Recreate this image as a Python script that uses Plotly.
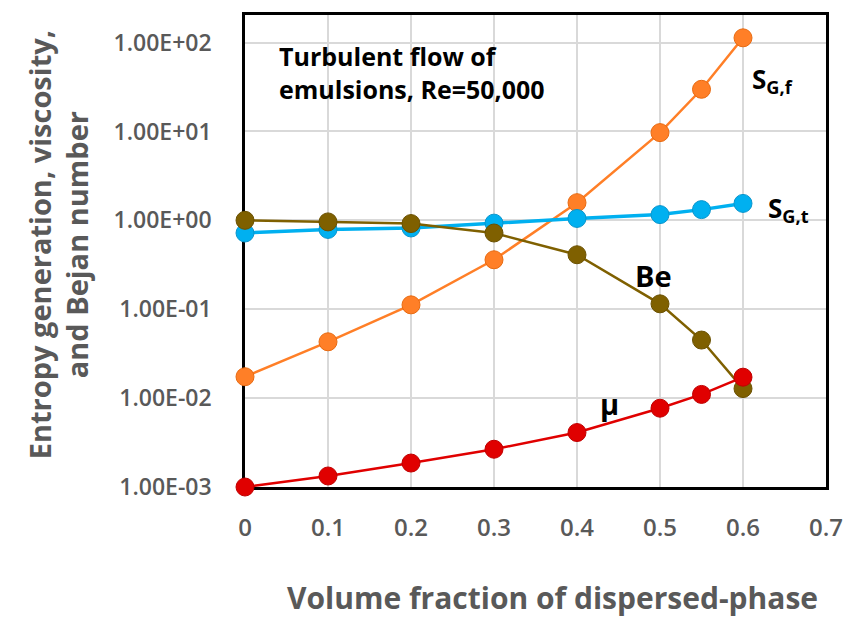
import plotly.graph_objects as go

# Volume fraction of the dispersed phase
phi = [0, 0.1, 0.2, 0.3, 0.4, 0.5, 0.55, 0.6]

# Series values (log scale on y)
sg_f = [0.0174, 0.043, 0.112, 0.36, 1.58, 9.7, 29.8, 113]
sg_t = [0.72, 0.79, 0.82, 0.93, 1.05, 1.16, 1.32, 1.55]
be = [1.0, 0.96, 0.92, 0.72, 0.41, 0.115, 0.045, 0.0128]
mu = [0.001, 0.00133, 0.00186, 0.00266, 0.0041, 0.0077, 0.011, 0.0172]

y_tickvals = [1e-3, 1e-2, 1e-1, 1e0, 1e1, 1e2]
y_ticktext = ["1.00E-03", "1.00E-02", "1.00E-01", "1.00E+00", "1.00E+01", "1.00E+02"]
x_tickvals = [0, 0.1, 0.2, 0.3, 0.4, 0.5, 0.6, 0.7]
x_ticktext = ["0", "0.1", "0.2", "0.3", "0.4", "0.5", "0.6", "0.7"]

FONT = "Open Sans"
GRAY = "#595959"

series = [
    (sg_f, "#FF7F27", "#E86A10", 2.5),
    (sg_t, "#00B0F0", "#0A95CC", 3.5),
    (be, "#7F6000", "#6A5000", 2.5),
    (mu, "#E00000", "#C00000", 2.5),
]

fig = go.Figure()
for ys, col, edge, lw in series:
    fig.add_trace(go.Scatter(
        x=phi, y=ys, mode="lines+markers",
        line=dict(color=col, width=lw),
        marker=dict(size=18, color=col, line=dict(color=edge, width=1)),
        cliponaxis=False, showlegend=False,
    ))

s_font = dict(family=FONT, size=26, color="black")
lbl_font = dict(family=FONT, size=29, color="black")
annotations = [
    dict(x=0.039, y=2.06, xref="x", yref="y", xanchor="left", yanchor="top", align="left",
         text="<b>Turbulent flow of<br>emulsions, Re=50,000</b>",
         font=dict(family=FONT, size=25, color="black"), showarrow=False),
    dict(x=0.6085, y=1.575, xref="x", yref="y", xanchor="left", yanchor="middle",
         text="<b>S<sub>G,f</sub></b>", font=s_font, showarrow=False),
    dict(x=0.628, y=0.13, xref="x", yref="y", xanchor="left", yanchor="middle",
         text="<b>S<sub>G,t</sub></b>", font=s_font, showarrow=False),
    dict(x=0.467, y=-0.617, xref="x", yref="y", xanchor="left", yanchor="middle",
         text="<b>Be</b>", font=lbl_font, showarrow=False),
    dict(x=0.425, y=-2.06, xref="x", yref="y", xanchor="left", yanchor="middle",
         text="<b>μ</b>", font=lbl_font, showarrow=False),
    dict(x=-0.322, y=0.514, xref="paper", yref="paper", xanchor="center", yanchor="middle",
         textangle=-90, text="<b>Entropy generation, viscosity,<br>and Bejan number</b>",
         font=dict(family=FONT, size=29, color=GRAY), showarrow=False),
    dict(x=0.529, y=-0.234, xref="paper", yref="paper", xanchor="center", yanchor="middle",
         text="<b>Volume fraction of dispersed-phase</b>",
         font=dict(family=FONT, size=30, color=GRAY), showarrow=False),
]

fig.update_layout(
    width=855, height=620,
    margin=dict(l=245, r=20, t=12, b=133),
    paper_bgcolor="white", plot_bgcolor="white",
    annotations=annotations,
    xaxis=dict(
        range=[0, 0.7], tickvals=x_tickvals, ticktext=x_ticktext,
        showgrid=True, gridcolor="#D9D9D9", gridwidth=1.5,
        showline=True, linecolor="black", linewidth=2.5, mirror=True,
        ticks="", ticklabelstandoff=17, zeroline=False,
        tickfont=dict(family=FONT, size=24, color=GRAY, weight=600),
        layer="below traces",
    ),
    yaxis=dict(
        type="log", range=[-3, 2.31], tickvals=y_tickvals, ticktext=y_ticktext,
        showgrid=True, gridcolor="#D9D9D9", gridwidth=1.5,
        showline=True, linecolor="black", linewidth=2.5, mirror=True,
        ticks="", ticklabelstandoff=26, zeroline=False,
        tickfont=dict(family=FONT, size=23, color=GRAY, weight=600),
        layer="below traces",
    ),
)

fig.write_html("out.html")
